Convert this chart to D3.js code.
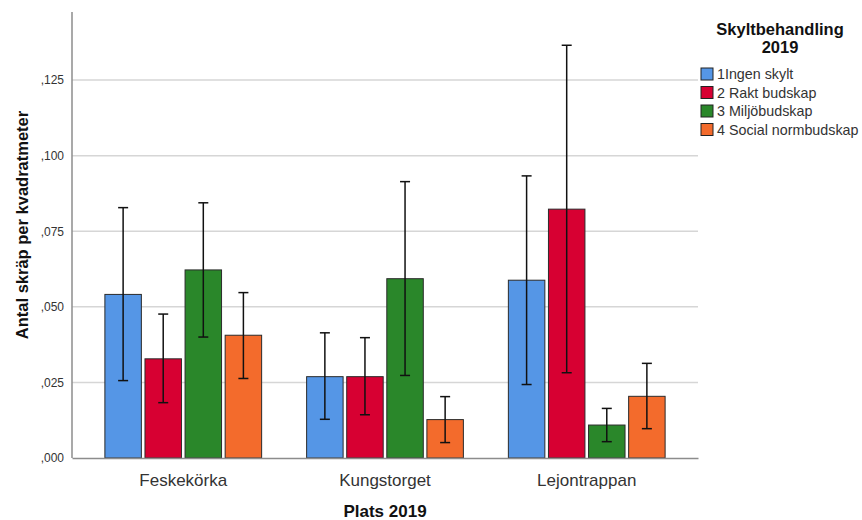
<!DOCTYPE html>
<html>
<head>
<meta charset="utf-8">
<script src="https://cdn.jsdelivr.net/npm/d3@7"></script>
<style>
  html, body { margin: 0; padding: 0; background: #fff; }
  svg { display: block; font-family: "Liberation Sans", Arial, sans-serif; }
</style>
</head>
<body>
<svg id="chart" width="862" height="520"></svg>
<script>
// Places (x-axis categories)
const places = ["Feskekörka", "Kungstorget", "Lejontrappan"];
// Sign treatments (series)
const treatments = ["1Ingen skylt", "2 Rakt budskap", "3 Miljöbudskap", "4 Social normbudskap"];
const colors = ["#5596e6", "#d70032", "#2a872a", "#f36b2c"];

// Mean litter per square metre, one array per treatment (in place order)
const meanIngen  = [0.0541, 0.0269, 0.0588];
const meanRakt   = [0.0328, 0.0269, 0.0823];
const meanMiljo  = [0.0622, 0.0593, 0.0109];
const meanSocial = [0.0406, 0.0127, 0.0204];

// Error bar limits (lower, upper)
const lowIngen   = [0.0256, 0.0128, 0.0243];
const highIngen  = [0.0828, 0.0414, 0.0933];
const lowRakt    = [0.0183, 0.0143, 0.0282];
const highRakt   = [0.0476, 0.0398, 0.1365];
const lowMiljo   = [0.0400, 0.0273, 0.0054];
const highMiljo  = [0.0844, 0.0914, 0.0164];
const lowSocial  = [0.0263, 0.0051, 0.0097];
const highSocial = [0.0547, 0.0203, 0.0313];

// Y-axis tick values and labels
const yTicks = [0, 0.025, 0.05, 0.075, 0.1, 0.125];
const yTickLabels = [",000", ",025", ",050", ",075", ",100", ",125"];

const means = [meanIngen, meanRakt, meanMiljo, meanSocial];
const lows = [lowIngen, lowRakt, lowMiljo, lowSocial];
const highs = [highIngen, highRakt, highMiljo, highSocial];

const rows = [];
places.forEach((p, i) => {
  treatments.forEach((t, j) => {
    rows.push({ place: p, treatment: t, color: colors[j],
                mean: means[j][i], low: lows[j][i], high: highs[j][i] });
  });
});

const svg = d3.select("#chart");
const plotLeft = 72, plotRight = 698, plotTop = 12, plotBottom = 458;

const y = d3.scaleLinear().domain([0, 0.1475]).range([plotBottom, plotTop]);
const x = d3.scaleBand().domain(places).range([plotLeft, plotRight])
  .paddingInner(0.223).paddingOuter(0.163);
const xs = d3.scaleBand().domain(treatments).range([0, x.bandwidth()])
  .paddingInner(0.09).paddingOuter(0);

// Gridlines
svg.append("g")
  .selectAll("line")
  .data(yTicks.filter(d => d > 0))
  .join("line")
  .attr("x1", plotLeft).attr("x2", plotRight)
  .attr("y1", d => y(d)).attr("y2", d => y(d))
  .attr("stroke", "#d6d6d6").attr("stroke-width", 1.5);

// Y axis
const yAxis = d3.axisLeft(y).tickValues(yTicks)
  .tickFormat((d, i) => yTickLabels[i]).tickSize(0).tickPadding(8);
const gy = svg.append("g").attr("transform", `translate(${plotLeft},0)`).call(yAxis);
gy.select(".domain").attr("stroke", "#8c8c8c").attr("stroke-width", 1.5)
  .attr("d", `M0,${plotTop}V${plotBottom}`);
gy.selectAll("text").attr("font-size", 12).attr("fill", "#333")
  .attr("font-family", "Liberation Sans, Arial, sans-serif");

// Bars
const groups = svg.append("g").selectAll("g")
  .data(rows).join("g")
  .attr("transform", d => `translate(${x(d.place) + xs(d.treatment)},0)`);

groups.append("rect")
  .attr("x", 0).attr("width", xs.bandwidth())
  .attr("y", d => y(d.mean)).attr("height", d => y(0) - y(d.mean))
  .attr("fill", d => d.color).attr("stroke", "#2b2b2b").attr("stroke-width", 1);

// X axis baseline
const xAxis = d3.axisBottom(x).tickSize(0).tickPadding(16);
const gx = svg.append("g").attr("transform", `translate(0,${plotBottom})`).call(xAxis);
gx.select(".domain").attr("stroke", "#8c8c8c").attr("stroke-width", 1.5);
gx.selectAll("text").attr("font-size", 17).attr("fill", "#333")
  .attr("font-family", "Liberation Sans, Arial, sans-serif");

// Error bars
const cap = 5;
groups.append("line")
  .attr("x1", xs.bandwidth() / 2).attr("x2", xs.bandwidth() / 2)
  .attr("y1", d => y(d.low)).attr("y2", d => y(d.high))
  .attr("stroke", "#111").attr("stroke-width", 1.5);
groups.append("line")
  .attr("x1", xs.bandwidth() / 2 - cap).attr("x2", xs.bandwidth() / 2 + cap)
  .attr("y1", d => y(d.high)).attr("y2", d => y(d.high))
  .attr("stroke", "#111").attr("stroke-width", 1.5);
groups.append("line")
  .attr("x1", xs.bandwidth() / 2 - cap).attr("x2", xs.bandwidth() / 2 + cap)
  .attr("y1", d => y(d.low)).attr("y2", d => y(d.low))
  .attr("stroke", "#111").attr("stroke-width", 1.5);

// Axis titles
svg.append("text")
  .attr("x", (plotLeft + plotRight) / 2).attr("y", 517)
  .attr("text-anchor", "middle").attr("font-weight", "bold").attr("font-size", 17)
  .attr("fill", "#111").text("Plats 2019");

svg.append("text")
  .attr("transform", `translate(28,225) rotate(-90)`)
  .attr("text-anchor", "middle").attr("font-weight", "bold").attr("font-size", 16.5)
  .attr("fill", "#111").text("Antal skräp per kvadratmeter");

// Legend
const legend = svg.append("g");
legend.append("rect").attr("x", 699).attr("y", 14).attr("width", 163).attr("height", 126)
  .attr("fill", "#fff");
legend.append("text").attr("x", 780).attr("y", 35).attr("text-anchor", "middle")
  .attr("font-weight", "bold").attr("font-size", 16.5).attr("fill", "#111")
  .text("Skyltbehandling");
legend.append("text").attr("x", 780).attr("y", 53).attr("text-anchor", "middle")
  .attr("font-weight", "bold").attr("font-size", 16.5).attr("fill", "#111")
  .text("2019");
const items = legend.selectAll("g.item").data(treatments).join("g")
  .attr("class", "item")
  .attr("transform", (d, i) => `translate(701,${68 + i * 18.5})`);
items.append("rect").attr("width", 12).attr("height", 12)
  .attr("fill", (d, i) => colors[i]).attr("stroke", "#222").attr("stroke-width", 1);
items.append("text").attr("x", 16).attr("y", 11)
  .attr("font-size", 14.3).attr("fill", "#333").text(d => d);
</script>
</body>
</html>
